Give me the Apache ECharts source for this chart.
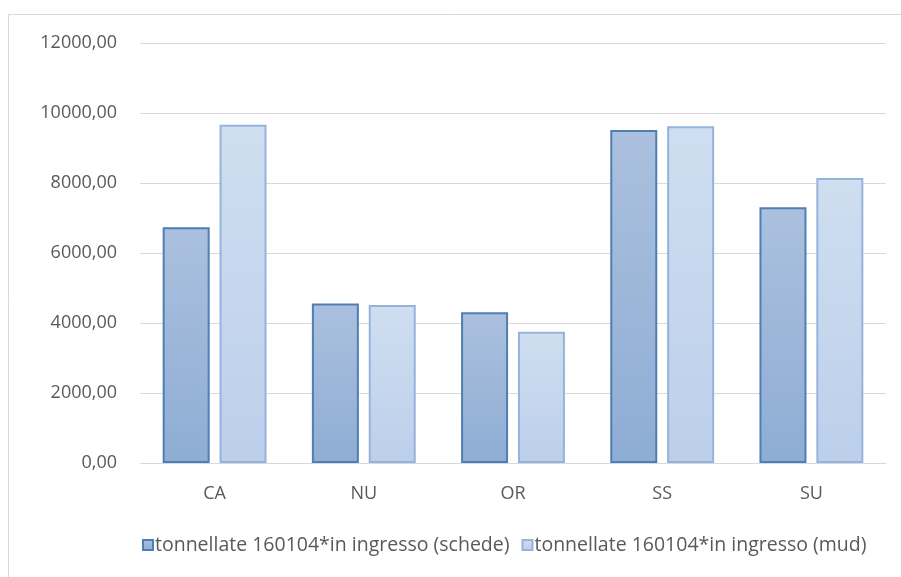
<!DOCTYPE html>
<html lang="it">
<head>
	<meta charset="UTF-8">
	<title>tonnellate 160104*</title>
	<style>
		html, body { margin: 0; padding: 0; background: #fff; }
	</style>
</head>
<body>
	<div id="main" style="width: 901px;height:577px;"></div>
	<script src="https://cdn.jsdelivr.net/npm/echarts@6/dist/echarts.min.js"></script>
	<script>
		// dati
		var categorie = ['CA', 'NU', 'OR', 'SS', 'SU'];
		var schede = [6735, 4560, 4305, 9515, 7305];
		var mud = [9665, 4515, 3750, 9620, 8145];
		var nomiSerie = ['tonnellate 160104*in ingresso (schede)', 'tonnellate 160104*in ingresso (mud)'];

		var font = 'Open Sans';
		var myChart = echarts.init(document.getElementById('main'));

		function grad(top, bottom) {
			return new echarts.graphic.LinearGradient(0, 0, 0, 1, [
				{ offset: 0, color: top },
				{ offset: 1, color: bottom }
			]);
		}

		var option = {
			animation: false,
			graphic: [{
				type: 'rect',
				shape: { x: 8.5, y: 14.5, width: 1000, height: 1000 },
				style: { fill: 'none', stroke: '#d9d9d9', lineWidth: 1 },
				silent: true
			}],
			grid: { left: 140, right: 15, top: 43, bottom: 114 },
			legend: {
				bottom: 17,
				left: 137,
				icon: 'rect',
				itemWidth: 10,
				itemHeight: 10,
				itemGap: 12,
				textStyle: { fontFamily: font, fontSize: 19.5, color: '#595959', padding: [0, 0, 0, -3] },
				data: nomiSerie
			},
			xAxis: {
				type: 'category',
				data: categorie,
				axisLine: { lineStyle: { color: '#d9d9d9', width: 1 } },
				axisTick: { show: false },
				axisLabel: { fontFamily: font, fontSize: 18, color: '#595959', margin: 22 }
			},
			yAxis: {
				type: 'value',
				min: 0,
				max: 12000,
				interval: 2000,
				axisLine: { show: false },
				axisTick: { show: false },
				splitLine: { lineStyle: { color: '#d9d9d9', width: 1 } },
				axisLabel: {
					fontFamily: font, fontSize: 18, color: '#595959', margin: 23,
					formatter: function (v) { return v.toFixed(2).replace('.', ','); }
				}
			},
			series: [{
				name: nomiSerie[0],
				type: 'bar',
				data: schede,
				barWidth: '31.5%',
				barGap: '21%',
				itemStyle: {
					color: grad('#abc0de', '#8eadd4'),
					borderColor: '#4f7eb5',
					borderWidth: 2
				}
			}, {
				name: nomiSerie[1],
				type: 'bar',
				data: mud,
				barWidth: '31.5%',
				itemStyle: {
					color: grad('#cfdef0', '#bccfeb'),
					borderColor: '#95b3db',
					borderWidth: 2
				}
			}]
		};

		myChart.setOption(option);
	</script>
</body>
</html>
